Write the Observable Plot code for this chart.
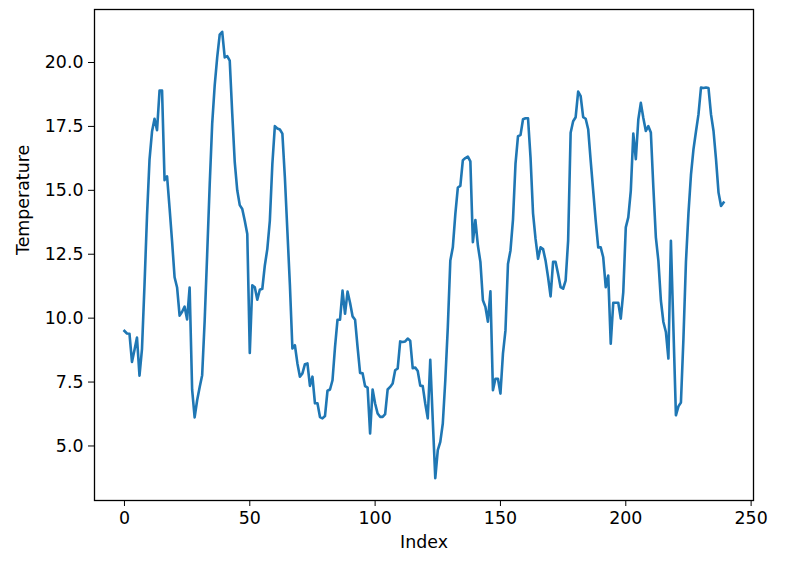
<!DOCTYPE html>
<html><head><meta charset="utf-8">
<script src="https://cdn.jsdelivr.net/npm/d3@7"></script>
<script src="https://cdn.jsdelivr.net/npm/@observablehq/plot@0.6"></script>
<style>body{margin:0;background:#fff;} svg{display:block;}</style>
</head><body><div id="chart"></div>
<script>
const temperature = [
  9.50, 9.40, 9.39, 8.29, 8.75, 9.24, 7.75, 8.80, 11.30, 14.00,
  16.20, 17.30, 17.80, 17.35, 18.90, 18.90, 15.40, 15.55, 14.30, 13.00,
  11.60, 11.20, 10.10, 10.25, 10.45, 9.95, 11.20, 7.20, 6.12, 6.79,
  7.30, 7.77, 9.90, 12.50, 15.20, 17.60, 19.10, 20.20, 21.09, 21.20,
  20.20, 20.25, 20.07, 18.00, 16.10, 15.00, 14.42, 14.27, 13.81, 13.29,
  8.64, 11.28, 11.21, 10.72, 11.11, 11.15, 12.06, 12.71, 13.81, 16.02,
  17.51, 17.42, 17.38, 17.22, 15.50, 13.40, 11.30, 8.81, 8.94, 8.23,
  7.71, 7.84, 8.20, 8.23, 7.35, 7.71, 6.67, 6.67, 6.13, 6.08,
  6.17, 7.16, 7.21, 7.57, 8.87, 9.94, 9.94, 11.08, 10.17, 11.04,
  10.60, 10.07, 9.94, 8.87, 7.86, 7.84, 7.34, 7.28, 5.49, 7.21,
  6.66, 6.27, 6.14, 6.14, 6.25, 7.21, 7.31, 7.44, 7.96, 8.03,
  9.09, 9.07, 9.09, 9.20, 9.12, 8.04, 8.07, 7.93, 7.36, 7.34,
  6.66, 6.08, 8.37, 6.00, 3.74, 4.84, 5.16, 5.88, 7.57, 9.65,
  12.25, 12.77, 14.07, 15.11, 15.17, 16.18, 16.26, 16.32, 16.13, 12.97,
  13.84, 12.84, 12.20, 10.70, 10.44, 9.86, 11.05, 7.18, 7.63, 7.63,
  7.05, 8.61, 9.52, 12.12, 12.65, 13.85, 16.03, 17.12, 17.16, 17.78,
  17.82, 17.82, 16.28, 14.10, 13.10, 12.32, 12.77, 12.70, 12.25, 11.60,
  10.85, 12.20, 12.20, 11.73, 11.21, 11.15, 11.47, 13.03, 17.25, 17.70,
  17.86, 18.86, 18.68, 17.86, 17.80, 17.39, 16.15, 14.98, 13.81, 12.77,
  12.77, 12.38, 11.21, 11.67, 9.00, 10.60, 10.60, 10.60, 9.98, 11.02,
  13.55, 13.94, 14.98, 17.22, 16.22, 17.77, 18.42, 17.83, 17.32, 17.51,
  17.26, 15.11, 13.16, 12.25, 10.69, 9.85, 9.46, 8.42, 13.03, 9.60,
  6.20, 6.55, 6.70, 9.20, 12.20, 14.10, 15.60, 16.60, 17.30, 17.97,
  19.02, 19.00, 19.02, 19.00, 17.97, 17.32, 16.21, 14.91, 14.39, 14.52
];
const xTicks = [0, 50, 100, 150, 200, 250];
const yTicks = [5, 7.5, 10, 12.5, 15, 17.5, 20];
const xLabel = "Index";
const yLabel = "Temperature";

const index = temperature.map((_, i) => i);
const n = temperature.length;
const xPad = (n - 1) * 0.05;
const [yMin, yMax] = d3.extent(temperature);
const yPad = (yMax - yMin) * 0.05;
const fs = 17.4;

const chart = Plot.plot({
  width: 802, height: 564,
  marginLeft: 94, marginRight: 49, marginTop: 9, marginBottom: 64,
  style: {fontFamily: "DejaVu Sans", fontSize: fs + "px", color: "#000", background: "#fff"},
  x: {domain: [-xPad, n - 1 + xPad]},
  y: {domain: [yMin - yPad, yMax + yPad]},
  marks: [
    Plot.axisX({ticks: xTicks, tickSize: 6, tickPadding: 5, label: null, tickFormat: d3.format("d"), fontSize: fs}),
    Plot.axisY({ticks: yTicks, tickSize: 6, tickPadding: 5, label: null, tickFormat: d3.format(".1f"), fontSize: fs}),
    Plot.line(index, {x: i => i, y: i => temperature[i], stroke: "#1f77b4", strokeWidth: 2.6, strokeLinejoin: "round", strokeLinecap: "square"}),
    Plot.frame({stroke: "#000", strokeWidth: 1.3}),
    Plot.text([xLabel], {text: d => d, frameAnchor: "bottom", dy: 47, fontSize: fs}),
    Plot.text([yLabel], {text: d => d, frameAnchor: "left", dx: -71, rotate: -90, fontSize: fs})
  ]
});
document.getElementById("chart").appendChild(chart);
</script>
</body></html>
